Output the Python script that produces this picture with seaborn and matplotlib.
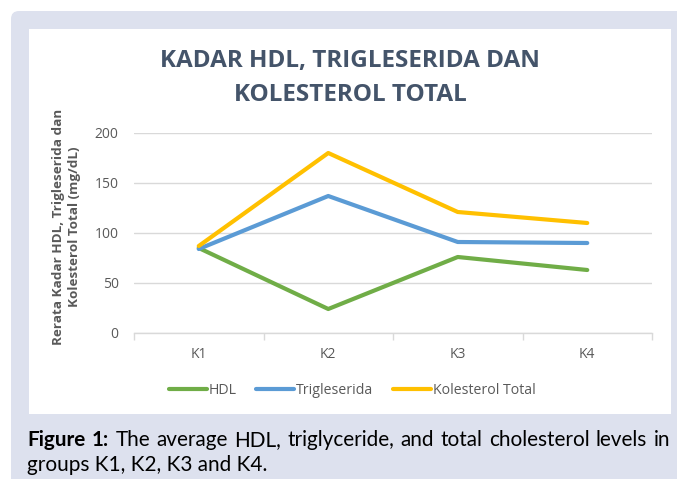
import numpy as np
import pandas as pd
import matplotlib
matplotlib.use('Agg')
import matplotlib.pyplot as plt
import seaborn as sns
from matplotlib.patches import FancyBboxPatch, Rectangle
from matplotlib.lines import Line2D
from matplotlib.transforms import IdentityTransform

# ---- data ----
groups = ['K1', 'K2', 'K3', 'K4']
hdl = [85, 24, 76, 63]
trigleserida = [84, 137, 91, 90]
kolesterol = [87, 180, 121, 110]
series_names = ['HDL', 'Trigleserida', 'Kolesterol Total']
colors = ['#70AD47', '#5B9BD5', '#FFC000']
yticks = [0, 50, 100, 150, 200]
title = 'KADAR HDL, TRIGLESERIDA DAN\nKOLESTEROL TOTAL'
ylabel = 'Rerata Kadar HDL, Trigleserida dan\nKolesterol Total (mg/dL)'
caption_bold = ['Figure', '1:']
caption_line1 = 'The average HDL, triglyceride, and total cholesterol levels in'
caption_line2 = 'groups K1, K2, K3 and K4.'

df = pd.DataFrame({
    'group': groups * 3,
    'value': hdl + trigleserida + kolesterol,
    'series': [series_names[0]] * 4 + [series_names[1]] * 4 + [series_names[2]] * 4,
})

sns.set_theme(style='white')
plt.rcParams['font.family'] = ['Open Sans', 'DejaVu Sans']

W, H = 677, 479
fig = plt.figure(figsize=(W / 100, H / 100), dpi=100)
fig.patch.set_facecolor('white')

# background panel and white chart box (pixel coordinates)
panel = FancyBboxPatch((11, -20), 720, H - 11 + 20,
                       boxstyle='round,pad=0,rounding_size=8',
                       transform=IdentityTransform(), fc='#DDE1EE', ec='none', zorder=-3)
fig.add_artist(panel)
box = Rectangle((29, H - 414), 671 - 29, 414 - 29, transform=IdentityTransform(),
                fc='white', ec='none', zorder=-2)
fig.add_artist(box)

ax = fig.add_axes([134 / W, (H - 333) / H, 518 / W, 200 / H])
ax.set_facecolor('none')

sns.lineplot(data=df, x='group', y='value', hue='series', hue_order=series_names,
             palette=colors, lw=3, ax=ax, legend=False, sort=False)

ax.set_xlim(-0.5, 3.5)
ax.set_ylim(0, 200)
ax.set_yticks(yticks)
ax.yaxis.grid(True, color='#D9D9D9', lw=1)
ax.set_axisbelow(True)
for s in ['top', 'right', 'left']:
    ax.spines[s].set_visible(False)
ax.spines['bottom'].set_color('#D9D9D9')
ax.spines['bottom'].set_linewidth(1)
ax.set_xlabel('')
ax.set_ylabel('')
ax.set_xticks(range(len(groups)))
ax.set_xticklabels(groups)
ax.set_xticks([-0.5, 0.5, 1.5, 2.5, 3.5], minor=True)
ax.tick_params(axis='x', which='major', length=0, pad=10, labelsize=10, labelcolor='#595959')
ax.tick_params(axis='x', which='minor', length=5, width=1, color='#D9D9D9', direction='out', bottom=True)
ax.tick_params(axis='y', length=0, pad=11, labelsize=10, labelcolor='#595959')

# title
fig.text(350 / W, 1 - 78 / H, title, ha='center', va='center', fontsize=17.5,
         weight='bold', color='#44546A', linespacing=1.6)

# y label
fig.text(66.5 / W, 1 - 227 / H, ylabel, ha='center', va='center', rotation=90,
         fontsize=9.7, weight='bold', color='#595959', linespacing=1.38)

# legend
handles = [Line2D([0], [0], color=c, lw=3) for c in colors]
fig.legend(handles, series_names, loc='center', bbox_to_anchor=(352 / W, 1 - 390 / H),
           ncol=3, frameon=False, handlelength=2.7, handletextpad=0.1, columnspacing=1.4,
           prop={'size': 10.2}, labelcolor='#595959')

# caption (justified first line), font size fitted to the box width
fig.canvas.draw()
renderer = fig.canvas.get_renderer()
cap_family = ['Lato', 'DejaVu Sans']
x0, x1 = 27, 670
probe = fig.text(0, 0, ' '.join(caption_bold) + ' ' + caption_line1, fontsize=12,
                 family=cap_family)
nat_w = probe.get_window_extent(renderer).width
probe.remove()
cap_size = 12 * (x1 - x0) / nat_w * 0.985
words = [(w, 'bold') for w in caption_bold] + [(w, 'normal') for w in caption_line1.split()]
tmp = [fig.text(0, 0, w, fontsize=cap_size, weight=wt, family=cap_family) for w, wt in words]
widths = [t.get_window_extent(renderer).width for t in tmp]
for t in tmp:
    t.remove()
gap = (x1 - x0 - sum(widths)) / (len(words) - 1)
x = x0
for (w, wt), wd in zip(words, widths):
    fig.text(x / W, 1 - 440 / H, w, fontsize=cap_size, weight=wt, color='black',
             ha='left', va='center', family=cap_family)
    x += wd + gap
fig.text(x0 / W, 1 - 465 / H, caption_line2, fontsize=cap_size, color='black',
         ha='left', va='center', family=cap_family)

fig.savefig('out.png', dpi=100)
